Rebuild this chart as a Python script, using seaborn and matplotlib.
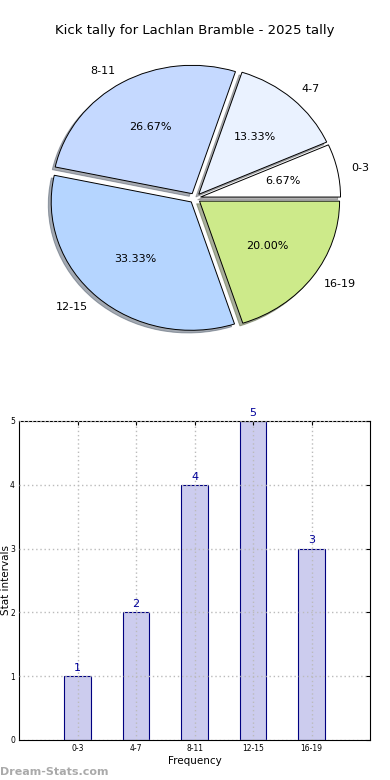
import matplotlib
matplotlib.use("Agg")
import matplotlib.pyplot as plt
import seaborn as sns
import pandas as pd

intervals = ["0-3", "4-7", "8-11", "12-15", "16-19"]
counts = [1, 2, 4, 5, 3]
pie_colors = ["#ffffff", "#eaf2ff", "#c5d9ff", "#b5d5ff", "#cdea8a"]

sns.set_style("white", {"text.color": "black", "axes.labelcolor": "black",
                        "xtick.color": "black", "ytick.color": "black"})
plt.rcParams["font.family"] = ["DejaVu Sans"]

fig = plt.figure(figsize=(3.9, 7.8), dpi=100)

# pie
ax1 = fig.add_axes([0.105, 0.565, 0.79, 0.362])
ax1.pie(
    counts,
    labels=intervals,
    colors=pie_colors,
    autopct="%.2f%%",
    explode=[0.04] * 5,
    shadow={"ox": -0.015, "oy": -0.015, "shade": 0.6},
    startangle=0,
    labeldistance=1.1,
    pctdistance=0.6,
    wedgeprops={"edgecolor": "black", "linewidth": 0.7},
    textprops={"fontsize": 8, "color": "black"},
)
ax1.set_aspect("auto")
ax1.set_xlim(-1.1, 1.1)
ax1.set_ylim(-1.1, 1.1)
fig.text(0.5, 0.961, "Kick tally for Lachlan Bramble - 2025 tally",
         ha="center", va="center", fontsize=9.5, color="black")

# bars
ax2 = fig.add_axes([0.049, 0.0513, 0.9, 0.409])
df = pd.DataFrame({"interval": intervals, "count": counts})
sns.barplot(data=df, x="interval", y="count", ax=ax2, width=0.45,
            color="#ccccee", edgecolor="#000080", linewidth=0.8, saturation=1)
for i, c in enumerate(counts):
    ax2.text(i, c + 0.05, str(c), ha="center", va="bottom",
             color="#000099", fontsize=8)
ax2.set_xlim(-1, 5)
ax2.set_ylim(0, 5)
ax2.set_yticks(range(6))
ax2.grid(True, linestyle=(0, (1, 2)), color="#bbbbbb", linewidth=1)
ax2.set_axisbelow(False)
for s in ax2.spines.values():
    s.set_color("black")
    s.set_linewidth(0.8)
ax2.tick_params(axis="both", labelsize=5.5, direction="in", length=3,
                top=True, right=True, pad=3)
ax2.set_xlabel("Frequency", fontsize=7.5, labelpad=2)
ax2.set_ylabel("Stat intervals", fontsize=7.5, va="top")
ax2.yaxis.set_label_coords(-0.052, 0.5)

fig.text(0.0, 0.004, "Dream-Stats.com", color="#aaaaaa", fontsize=8,
         fontweight="bold", ha="left", va="bottom")

plt.savefig("out.png", dpi=100)
